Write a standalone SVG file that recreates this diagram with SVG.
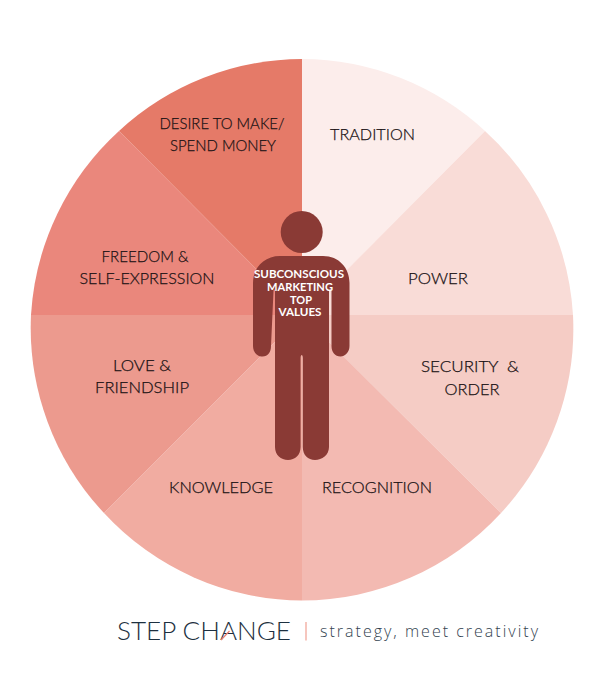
<svg xmlns="http://www.w3.org/2000/svg" width="600" height="683" viewBox="0 0 600 683">
<style>
.l{font-family:"Lato","Open Sans",sans-serif;font-size:16.5px;font-weight:300;fill:#1a1214;stroke:#1a1214;stroke-width:.25px;text-anchor:middle;white-space:pre}
.c{font-family:"Lato","Open Sans",sans-serif;font-size:11.5px;font-weight:700;fill:#fff;text-anchor:middle}
</style>
<rect width="600" height="683" fill="#fff"/>
<g id="wheel">
<path id="w-tradition" d="M302 315V59A271 271 0 0 1 485 131Z" fill="#fcedeb"/>
<path id="w-power" d="M302 315L485 131A271 271 0 0 1 573 315Z" fill="#f9dcd7"/>
<path id="w-security" d="M302 315H573A271 271 0 0 1 501 513Z" fill="#f5ccc5"/>
<path id="w-recognition" d="M302 315L501 513A271 271 0 0 1 302 600.500Z" fill="#f3bab2"/>
<path id="w-knowledge" d="M302 315V600.500A271 271 0 0 1 104 513Z" fill="#f1aca1"/>
<path id="w-love" d="M302 315L104 513A271 271 0 0 1 31 315Z" fill="#ec9a8e"/>
<path id="w-freedom" d="M302 315H31A271 271 0 0 1 119 131Z" fill="#ea877c"/>
<path id="w-desire" d="M302 315L119 131A271 271 0 0 1 302 59Z" fill="#e57a68"/>
</g>
<g id="figure" fill="#8a3a35">
<circle cx="301.700" cy="232" r="21"/>
<path d="M280 256H323C339 256 349.500 268 349.500 283V346C349.500 352 345 356.500 340.500 356.500C335 356.500 331.500 352 331.500 346V291C331.500 289 329 289 329 291V447C329 455 322 460 315 460C308 460 302.800 455 302.800 447V358C302.800 354 300.600 354 300.600 358V447C300.600 455 295 460 288 460C281 460 275 455 275 447V291C275 289 273.500 289 273.500 291L271 346C271 352 268 356.500 262.500 356.500C257 356.500 253 352 253 346V283C253 268 264 256 280 256Z"/>
</g>
<g id="labels">
<text class="l" x="372.500" y="140" textLength="85" lengthAdjust="spacingAndGlyphs">TRADITION</text>
<text class="l" x="438" y="284" textLength="60" lengthAdjust="spacingAndGlyphs">POWER</text>
<text class="l" x="470" y="372" textLength="98" lengthAdjust="spacingAndGlyphs">SECURITY  &amp;</text>
<text class="l" x="472" y="395" textLength="55" lengthAdjust="spacingAndGlyphs">ORDER</text>
<text class="l" x="377" y="493" textLength="110" lengthAdjust="spacingAndGlyphs">RECOGNITION</text>
<text class="l" x="221" y="493" textLength="104" lengthAdjust="spacingAndGlyphs">KNOWLEDGE</text>
<text class="l" x="142" y="371" textLength="58" lengthAdjust="spacingAndGlyphs">LOVE &amp;</text>
<text class="l" x="142" y="393" textLength="94" lengthAdjust="spacingAndGlyphs">FRIENDSHIP</text>
<text class="l" x="145" y="262" textLength="87" lengthAdjust="spacingAndGlyphs">FREEDOM &amp;</text>
<text class="l" x="147" y="284" textLength="135" lengthAdjust="spacingAndGlyphs">SELF-EXPRESSION</text>
<text class="l" x="222" y="129" textLength="125" lengthAdjust="spacingAndGlyphs">DESIRE TO MAKE/</text>
<text class="l" x="223" y="151" textLength="106" lengthAdjust="spacingAndGlyphs">SPEND MONEY</text>
</g>
<g id="center-label">
<text class="c" x="299" y="278" textLength="90" lengthAdjust="spacingAndGlyphs">SUBCONSCIOUS</text>
<text class="c" x="300" y="291" textLength="66" lengthAdjust="spacingAndGlyphs">MARKETING</text>
<text class="c" x="301" y="303.500" textLength="22" lengthAdjust="spacingAndGlyphs">TOP</text>
<text class="c" x="300" y="316" textLength="43" lengthAdjust="spacingAndGlyphs">VALUES</text>
</g>
<g id="brand">
<text x="117" y="640" font-family="Lato,'Open Sans',sans-serif" font-size="24.500" font-weight="300" fill="#1d3040" textLength="174" lengthAdjust="spacingAndGlyphs">STEP CHANGE</text>
<path d="M221 640L229.500 631" stroke="#ec7d6c" stroke-width="1.200" fill="none"/>
<path d="M306 622V640.500" stroke="#f0a093" stroke-width="1.200" fill="none"/>
<text x="320" y="637" font-family="'Open Sans',Lato,sans-serif" font-size="16" font-weight="300" fill="#334350" textLength="218" lengthAdjust="spacing">strategy, meet creativity</text>
</g>
</svg>
